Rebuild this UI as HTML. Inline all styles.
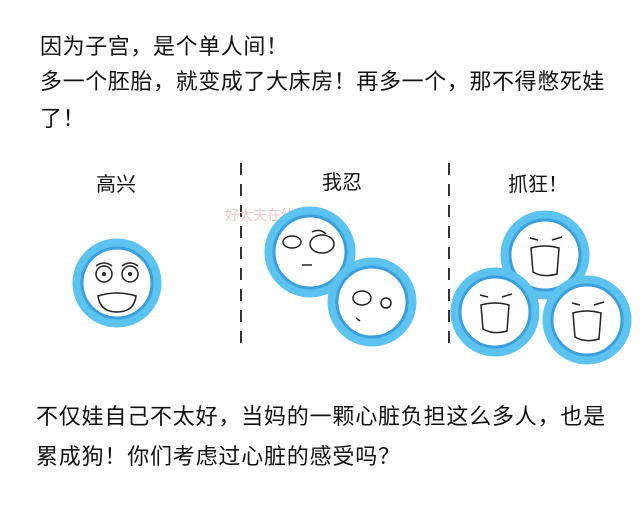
<!DOCTYPE html>
<html><head><meta charset="utf-8"><style>
body{margin:0;width:640px;height:524px;background:#fff;position:relative;overflow:hidden;font-family:"Noto Sans CJK SC",sans-serif;color:#111}
.t{position:absolute;font-size:22px;letter-spacing:0.6px;white-space:nowrap;line-height:26px}
.l{position:absolute;font-size:20px;white-space:nowrap;line-height:24px}
</style></head><body>
<div class="t" style="left:40px;top:32px">因为子宫，是个单人间！</div>
<div class="t" style="left:40px;top:67px">多一个胚胎，就变成了大床房！再多一个，那不得憋死娃</div>
<div class="t" style="left:40px;top:104px">了！</div>
<div class="l" style="left:96px;top:171px">高兴</div>
<div class="l" style="left:322px;top:169px">我忍</div>
<div class="l" style="left:508px;top:171px">抓狂！</div>
<div class="t" style="left:36px;top:402px;letter-spacing:0.8px">不仅娃自己不太好，当妈的一颗心脏负担这么多人，也是</div>
<div class="t" style="left:36px;top:442px;letter-spacing:0.8px">累成狗！你们考虑过心脏的感受吗？</div>
<svg width="640" height="524" style="position:absolute;left:0;top:0">
<g stroke="#333" stroke-width="2" stroke-dasharray="12,9">
<line x1="241" y1="163" x2="241" y2="352"/><line x1="449" y1="163" x2="449" y2="352"/>
</g>
<text x="225" y="220" font-size="14" fill="#f4c4ca" font-family="Noto Sans CJK SC">好大夫在线</text>
<g fill="#fff">
<circle cx="117" cy="283" r="40" stroke="#5cc3f0" stroke-width="9"/><circle cx="117" cy="283" r="35" stroke="#3a9fdb" stroke-width="3"/>
<circle cx="310" cy="252" r="41" stroke="#5cc3f0" stroke-width="9"/><circle cx="310" cy="252" r="36" stroke="#3a9fdb" stroke-width="3"/>
<circle cx="372" cy="302" r="40" stroke="#5cc3f0" stroke-width="9"/><circle cx="372" cy="302" r="35" stroke="#3a9fdb" stroke-width="3"/>
<circle cx="545" cy="255" r="40" stroke="#5cc3f0" stroke-width="9"/><circle cx="545" cy="255" r="35" stroke="#3a9fdb" stroke-width="3"/>
<circle cx="495" cy="312" r="40" stroke="#5cc3f0" stroke-width="9"/><circle cx="495" cy="312" r="35" stroke="#3a9fdb" stroke-width="3"/>
<circle cx="587" cy="320" r="40" stroke="#5cc3f0" stroke-width="9"/><circle cx="587" cy="320" r="35" stroke="#3a9fdb" stroke-width="3"/>
</g>
<g fill="none" stroke="#222" stroke-width="1.5">
<circle cx="104" cy="274" r="8"/><circle cx="130" cy="274" r="8"/><path d="M96 266 q8 -6 16 0 M122 266 q8 -6 16 0"/><path d="M98 296 Q117 290 136 296 Q134 312 117 312 Q100 312 98 296Z"/>
<ellipse cx="292" cy="242" rx="9" ry="6"/><ellipse cx="322" cy="244" rx="12" ry="9"/><path d="M312 232 q8 -4 14 2"/><path d="M302 265 h10"/>
<ellipse cx="362" cy="298" rx="9" ry="7"/><circle cx="386" cy="303" r="5"/><path d="M356 318 l4 3"/>
<path d="M530 238 l8 2 M552 240 l10 -3 M531 248 q14 -4 28 0 l-2 26 q-14 4 -24 -2z"/>
<path d="M480 295 l8 2 M502 297 l10 -3 M481 305 q14 -4 28 0 l-2 26 q-14 4 -24 -2z"/>
<path d="M572 303 l8 2 M594 305 l10 -3 M573 313 q14 -4 28 0 l-2 26 q-14 4 -24 -2z"/>
</g>
<g fill="#222"><circle cx="104" cy="274" r="2"/><circle cx="130" cy="274" r="2"/></g>
</svg>
</body></html>
